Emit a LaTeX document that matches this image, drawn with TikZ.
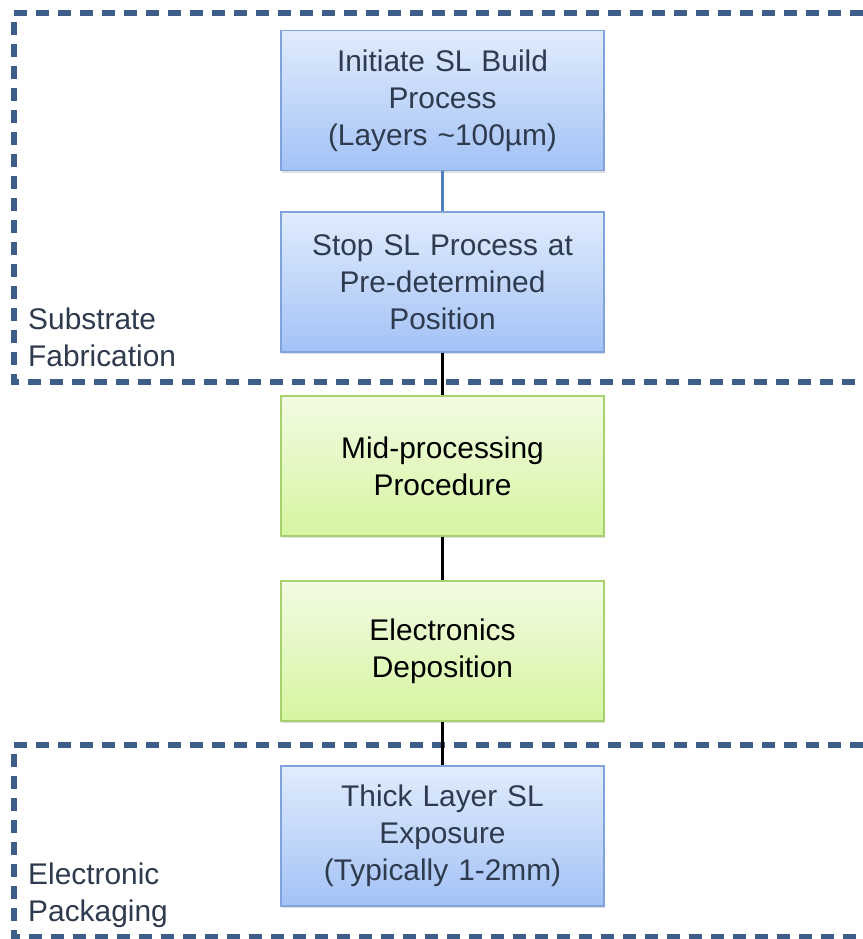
\documentclass[tikz,border=0pt]{standalone}
\usepackage{fontspec}
\setmainfont{Liberation Sans}
\usetikzlibrary{positioning, shadows}

\definecolor{blueTop}{HTML}{E1ECFD}
\definecolor{blueBot}{HTML}{A3C2F6}
\definecolor{blueEdge}{HTML}{7FA3DA}
\definecolor{greenTop}{HTML}{F2FBE3}
\definecolor{greenBot}{HTML}{D5F5A0}
\definecolor{greenEdge}{HTML}{A9D06F}
\definecolor{regionDash}{HTML}{3E5E8A}
\definecolor{linkBlue}{HTML}{4F81BD}
\definecolor{labelText}{HTML}{2E3A4D}

\begin{document}
\begin{tikzpicture}[x=0.03cm, y=-0.03cm,
    procbox/.style={rectangle, minimum width=9.69cm, minimum height=4.2cm,
        text width=9.4cm, align=center, inner sep=0pt, line width=1.2pt,
        font=\fontsize{25.5}{31.5}\selectfont,
        drop shadow={shadow xshift=0.04cm, shadow yshift=-0.07cm, opacity=0.25}},
    bluebox/.style={procbox, draw=blueEdge, top color=blueTop, bottom color=blueBot, text=labelText},
    greenbox/.style={procbox, draw=greenEdge, top color=greenTop, bottom color=greenBot, text=black},
    region/.style={draw=regionDash, line width=4.3pt, dash pattern=on 0.38cm off 0.28cm},
    regionlabel/.style={anchor=west, align=left, inner sep=0pt, text=labelText, font=\fontsize{25.5}{31.5}\selectfont},
    link/.style={line width=3.4pt, black}]

    % Fix the page size
    \useasboundingbox (0,0) rectangle (863,939);

    % Dashed regions
    \draw[region] (863,13) -- (14,13) -- (14,382) -- (863,382);
    \draw[region] (863,745) -- (14,745) -- (14,937) -- (863,937);

    % Region labels
    \node[regionlabel] (subfab) at (28,337) {Substrate\\Fabrication};
    \node[regionlabel] (elpack) at (28,895) {Electronic\\Packaging};

    % Process steps
    \node[bluebox] (init) at (442.5,100.5) {Initiate SL Build\\Process\\(Layers \textasciitilde100µm)};
    \node[bluebox] (stop) at (442.5,282) {Stop SL Process at\\Pre-determined\\Position};
    \node[greenbox] (mid) at (442.5,466) {Mid-processing\\Procedure};
    \node[greenbox] (elec) at (442.5,651) {Electronics\\Deposition};
    \node[bluebox] (thick) at (442.5,836) {Thick Layer SL\\Exposure\\(Typically 1-2mm)};

    % Connectors
    \draw[link, draw=linkBlue] (init) -- (stop);
    \draw[link] (stop) -- (mid);
    \draw[link] (mid) -- (elec);
    \draw[link] (elec) -- (thick);

\end{tikzpicture}
\end{document}
